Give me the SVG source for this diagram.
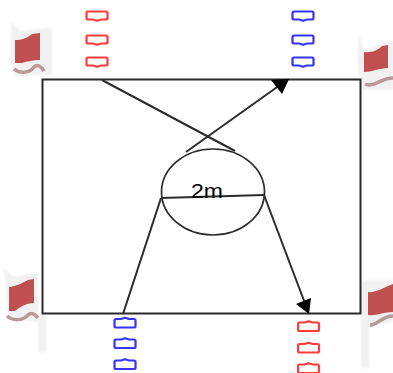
<svg xmlns="http://www.w3.org/2000/svg" width="393" height="373" viewBox="0 0 393 373">
<style>
.s{fill:#fff;stroke-width:2.200;stroke-linejoin:round;filter:url(#soft)}
.r{stroke:#ff3c3c}
.b{stroke:#3434ff}
.l{fill:none;stroke:#2c2c2c;stroke-width:2;filter:url(#soft)}
.p{fill:#f1f1f1;filter:url(#haze)}
.f{fill:#c0504f;filter:url(#soft)}
.w{fill:none;stroke:#b89898;stroke-width:3.500;filter:url(#soft)}
.a{fill:#000;filter:url(#soft)}
</style>
<defs>
<filter id="soft" x="-30%" y="-30%" width="160%" height="160%"><feGaussianBlur stdDeviation="0.500"/></filter>
<filter id="haze" x="-30%" y="-30%" width="160%" height="160%"><feGaussianBlur stdDeviation="1.200"/></filter>
<path id="dn" d="M-9,-4.500H9Q10.500,-4.500 10.500,-3V2Q10.500,3.500 9,3.500H4L0,4.800L-4,3.500H-9Q-10.500,3.500 -10.500,2V-3Q-10.500,-4.500 -9,-4.500Z"/>
<path id="up" d="M-9,5H9Q10.500,5 10.500,3.500V-2Q10.500,-3.500 9,-3.500H4L0,-4.800L-4,-3.500H-9Q-10.500,-3.500 -10.500,-2V3.500Q-10.500,5 -9,5Z"/>
</defs>
<g id="flag-top-left">
<path class="p" d="M11,22L20,31C28,31 40,28 52,28V75L14,76L10,60Z"/>
<path class="f" d="M15,40C22,40 27,38 32,34L40,33V60C32,60 26,62 22,63H15Z"/>
<path class="w" d="M14,69C20,74 30,73 34,67C37,64 41,66 44,71"/>
</g>
<g id="flag-top-right">
<path class="p" d="M358,33L364,50L393,40V90H362L358,70Z"/>
<path class="f" d="M364,52C372,53 378,50 382,46L388,45V68C380,68 372,72 364,72Z"/>
<path class="w" d="M365,84C374,88 380,78 393,78"/>
</g>
<g id="flag-bottom-left">
<path class="p" d="M4,268L12,276C20,276 30,274 38,272V314H46V352H38V322L8,318Z"/>
<path class="f" d="M9,287C18,286 24,282 28,280L34,279V303C26,303 20,307 15,311H9Z"/>
<path class="w" d="M7,316C14,322 24,320 28,315C31,312 35,314 38,318"/>
</g>
<g id="flag-bottom-right">
<path class="p" d="M361,282L370,280H393V322L369,326V368H361Z"/>
<path class="f" d="M368,292C376,293 382,288 393,284V312C384,312 376,316 368,315Z"/>
<path class="w" d="M370,325C376,326 382,316 393,316"/>
</g>
<g id="field"><rect x="42.500" y="79.500" width="318" height="234" fill="none" stroke="#2c2c2c" stroke-width="2" filter="url(#soft)"/></g>
<g id="connectors">
<path class="l" d="M102,80L235,151"/>
<path class="l" d="M186,152L280,85"/>
<path class="a" d="M271,80L289,79L282,94Z"/>
<path class="l" d="M161,198L264,195"/>
<path class="l" d="M161,198L123,314"/>
<path class="l" d="M264,195L306,306"/>
<path class="a" d="M296,304L311,298L309,314Z"/>
</g>
<g id="circle"><ellipse cx="213" cy="192" rx="51.500" ry="43" fill="none" stroke="#2c2c2c" stroke-width="1.700" filter="url(#soft)"/></g>
<g id="label"><text x="207" y="198" font-family="'Liberation Sans',Arial,sans-serif" font-size="20" text-anchor="middle" textLength="32" lengthAdjust="spacingAndGlyphs" fill="#000">2m</text></g>
<g id="red-top">
<use href="#dn" transform="translate(97,16)" class="s r"/>
<use href="#dn" transform="translate(97,40)" class="s r"/>
<use href="#dn" transform="translate(97,62)" class="s r"/>
</g>
<g id="blue-top">
<use href="#dn" transform="translate(303,16)" class="s b"/>
<use href="#dn" transform="translate(303,40)" class="s b"/>
<use href="#dn" transform="translate(303,62)" class="s b"/>
</g>
<g id="blue-bottom">
<use href="#up" transform="translate(125,322.500)" class="s b"/>
<use href="#up" transform="translate(125,343)" class="s b"/>
<use href="#up" transform="translate(125,364)" class="s b"/>
</g>
<g id="red-bottom">
<use href="#up" transform="translate(308.500,326)" class="s r"/>
<use href="#up" transform="translate(308.500,347.500)" class="s r"/>
<use href="#up" transform="translate(308.500,368)" class="s r"/>
</g>
</svg>
